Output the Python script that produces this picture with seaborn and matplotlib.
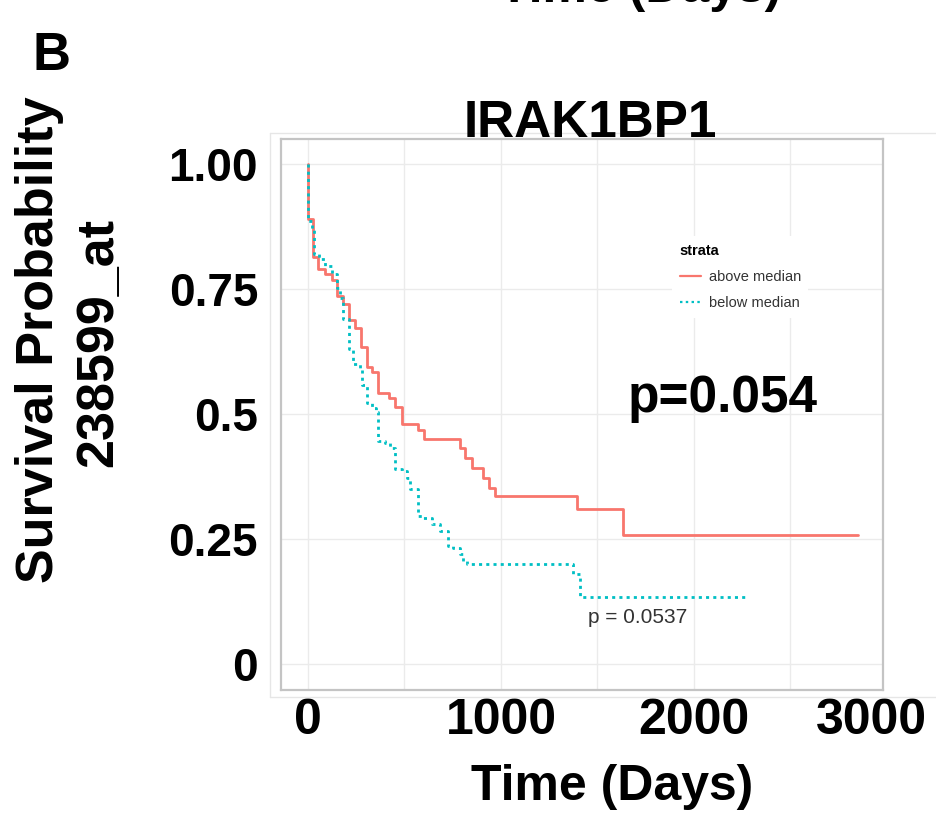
import matplotlib
matplotlib.use('Agg')
import pandas as pd
import seaborn as sns
import matplotlib.pyplot as plt
from matplotlib.lines import Line2D
from matplotlib.transforms import offset_copy

# Kaplan-Meier steps (days, survival probability)
above_time = [0, 0, 26, 52, 88, 124, 150, 182, 214, 244, 275, 306, 332, 363,
              420, 451, 488, 571, 602, 788, 814, 851, 908, 939, 970, 1395, 1634, 2848]
above_surv = [1.0, 0.89, 0.814, 0.79, 0.78, 0.768, 0.736, 0.72, 0.687, 0.672, 0.633,
              0.593, 0.583, 0.541, 0.531, 0.513, 0.481, 0.469, 0.451, 0.433, 0.413,
              0.393, 0.373, 0.353, 0.337, 0.311, 0.259, 0.259]

below_time = [0, 0, 21, 31, 57, 88, 124, 150, 166, 182, 213, 233, 270, 280, 306,
              332, 350, 363, 399, 425, 451, 488, 513, 529, 571, 596, 643, 685, 726,
              752, 788, 804, 825, 1374, 1411, 2277]
below_surv = [1.0, 0.886, 0.87, 0.82, 0.81, 0.796, 0.78, 0.752, 0.732, 0.69, 0.63,
              0.60, 0.587, 0.557, 0.521, 0.511, 0.503, 0.447, 0.443, 0.433, 0.391,
              0.387, 0.373, 0.351, 0.297, 0.293, 0.281, 0.267, 0.237, 0.233, 0.221,
              0.207, 0.20, 0.18, 0.134, 0.134]

strata = ['above median', 'below median']
x_ticks = [0, 500, 1000, 1500, 2000, 2500]
x_tick_labels = ['0', '', '1000', '', '2000', '']
y_ticks = [0, 0.25, 0.5, 0.75, 1.0]
y_tick_labels = ['0', '0.25', '0.5', '0.75', '1.00']

df = pd.concat([
    pd.DataFrame({'time': above_time, 'surv': above_surv, 'strata': strata[0]}),
    pd.DataFrame({'time': below_time, 'surv': below_surv, 'strata': strata[1]}),
], ignore_index=True)

sns.set_theme(style='white')
plt.rcParams['font.family'] = ['Liberation Sans', 'DejaVu Sans']
plt.rcParams['text.color'] = 'black'

W, H = 937, 825
fig = plt.figure(figsize=(W / 100, H / 100), dpi=100)
ax = fig.add_axes([281 / W, 1 - 690 / H, (883 - 281) / W, (690 - 139) / H])

sns.lineplot(data=df, x='time', y='surv', hue='strata', style='strata',
             palette={strata[0]: '#F8766D', strata[1]: '#00BFC4'},
             dashes={strata[0]: '', strata[1]: (1.1, 1.5)},
             estimator=None, sort=False, drawstyle='steps-post',
             linewidth=2.0, ax=ax)

ax.set_xlim(-140, 2980)
ax.set_ylim(-0.051, 1.049)
ax.set_xticks(x_ticks)
ax.set_xticklabels(x_tick_labels)
ax.set_yticks(y_ticks)
ax.set_yticklabels(y_tick_labels)
ax.set_xlabel('')
ax.set_ylabel('')
ax.grid(True, color='#ebebeb', linewidth=1.0)
ax.set_axisbelow(True)
for s in ax.spines.values():
    s.set_color('#c4c4c4')
    s.set_linewidth(1.6)

ax.tick_params(axis='both', direction='out', length=4.5, width=1.1, color='#333333')
ax.tick_params(axis='x', labelsize=36, pad=1)
ax.tick_params(axis='y', labelsize=33, pad=12)
for t in ax.get_xticklabels() + ax.get_yticklabels():
    t.set_fontweight('bold')
    t.set_color('black')

# the last x label sits off the tick grid in the original
ax.text(2922, 0, '3000', ha='center', va='top', fontsize=36, fontweight='bold',
        transform=offset_copy(ax.get_xaxis_transform(), fig=fig, y=-5.5, units='points'))

# legend
handles, labels = ax.get_legend_handles_labels()
leg = ax.legend(handles, labels, title='strata', loc='upper left',
                bbox_to_anchor=(665 / W, 1 - 229 / H), bbox_transform=fig.transFigure,
                frameon=True, facecolor='white', edgecolor='none', framealpha=1,
                fancybox=False, fontsize=10.5,
                title_fontproperties={'weight': 'bold', 'size': 10.5},
                handlelength=1.5, handletextpad=0.5, labelspacing=0.85,
                borderpad=0.5, alignment='left')
for t in leg.get_texts():
    t.set_color('#333333')
for h in leg.legend_handles:
    h.set_linewidth(1.6)

# annotations
ax.text(2150, 0.504, 'p=0.054', ha='center', va='baseline', fontsize=37, fontweight='bold')
ax.text(1706, 0.083, 'p = 0.0537', ha='center', va='baseline', fontsize=15, color='#333333')

fig.text(590 / W, 1 - 137 / H, 'IRAK1BP1', ha='center', va='baseline',
         fontsize=37, fontweight='bold')
fig.text(33 / W, 1 - 70 / H, 'B', ha='left', va='baseline', fontsize=38, fontweight='bold')
# bottom edge of the previous panel's axis title, cut off by the crop
fig.text(640 / W, 1 - 2 / H, 'Time (Days)', ha='center', va='baseline',
         fontsize=36, fontweight='bold')
fig.text(612 / W, 1 - 800 / H, 'Time (Days)', ha='center', va='baseline',
         fontsize=36, fontweight='bold')
fig.text(40 / W, 1 - 340 / H, 'Survival Probability', rotation=90, ha='center',
         va='center', fontsize=37.5, fontweight='bold')
fig.text(99 / W, 1 - 342 / H, '238599_at', rotation=90, ha='center',
         va='center', fontsize=37.5, fontweight='bold')

# faint outer frame of the pasted panel
frame_kw = dict(color='#e6e6e6', linewidth=1.0, transform=fig.transFigure)
fig.add_artist(Line2D([270 / W, 270 / W], [1 - 697 / H, 1 - 133 / H], **frame_kw))
fig.add_artist(Line2D([270 / W, 1.0], [1 - 133 / H, 1 - 133 / H], **frame_kw))
fig.add_artist(Line2D([270 / W, 1.0], [1 - 697 / H, 1 - 697 / H], **frame_kw))

fig.savefig('out.png', dpi=100)
